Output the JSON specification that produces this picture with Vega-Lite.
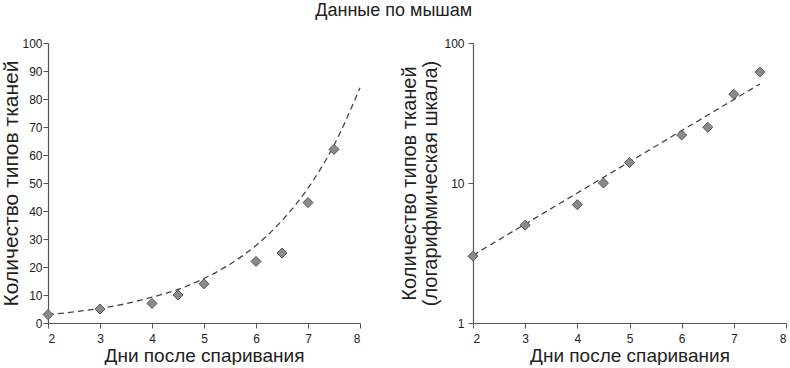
{
  "$schema": "https://vega.github.io/schema/vega-lite/v6.json",
  "padding": {"left": 0, "top": 2, "right": 2, "bottom": 0},
  "title": {"text": "Данные по мышам", "fontSize": 18, "font": "Liberation Sans", "fontWeight": "normal", "color": "#222", "offset": 17, "anchor": "middle"},
  "datasets": {
    "points": [
      {"day": 2, "types": 3},
      {"day": 3, "types": 5},
      {"day": 4, "types": 7},
      {"day": 4.5, "types": 10},
      {"day": 5, "types": 14},
      {"day": 6, "types": 22},
      {"day": 6.5, "types": 25},
      {"day": 7, "types": 43},
      {"day": 7.5, "types": 62}
    ],
    "curve": [
      {"day": 2, "types": 3.0},
      {"day": 2.5, "types": 3.95},
      {"day": 3, "types": 5.25},
      {"day": 3.5, "types": 6.9},
      {"day": 4, "types": 9.2},
      {"day": 4.5, "types": 12.0},
      {"day": 5, "types": 15.9},
      {"day": 5.5, "types": 21.0},
      {"day": 6, "types": 27.7},
      {"day": 6.5, "types": 36.6},
      {"day": 7, "types": 48.2},
      {"day": 7.5, "types": 63.5},
      {"day": 8, "types": 84.0}
    ],
    "fitline": [
      {"day": 2, "types": 3.05},
      {"day": 7.5, "types": 51}
    ]
  },
  "spacing": 36,
  "hconcat": [
    {
      "width": 312,
      "height": 280,
      "encoding": {
        "x": {"field": "day", "type": "quantitative", "scale": {"domain": [2, 8], "nice": false}, "axis": {"values": [2, 3, 4, 5, 6, 7, 8], "title": "Дни после спаривания", "titleFontSize": 19, "labelPadding": 5, "titlePadding": 2}},
        "y": {"field": "types", "type": "quantitative", "scale": {"domain": [0, 100], "nice": false}, "axis": {"values": [0, 10, 20, 30, 40, 50, 60, 70, 80, 90, 100], "tickCount": 11, "labelOverlap": false, "title": "Количество типов тканей", "titleFontSize": 21, "titlePadding": 0, "labelPadding": 1}}
      },
      "layer": [
        {
          "data": {"name": "curve"},
          "mark": {"type": "line", "interpolate": "monotone", "strokeDash": [6, 4], "color": "#444", "strokeWidth": 1.3}
        },
        {
          "data": {"name": "points"},
          "mark": {"type": "point", "shape": "diamond", "filled": true, "size": 100, "fill": "#8a8a8a", "stroke": "#555", "strokeWidth": 1, "opacity": 1}
        }
      ]
    },
    {
      "width": 313,
      "height": 280,
      "encoding": {
        "x": {"field": "day", "type": "quantitative", "scale": {"domain": [2, 8], "nice": false}, "axis": {"values": [2, 3, 4, 5, 6, 7, 8], "title": "Дни после спаривания", "titleFontSize": 19, "labelPadding": 5, "titlePadding": 2}},
        "y": {"field": "types", "type": "quantitative", "scale": {"type": "log", "domain": [1, 100], "nice": false}, "axis": {"values": [1, 10, 100], "format": "d", "labelOverlap": false, "title": ["Количество типов тканей", "(логарифмическая шкала)"], "titleFontSize": 20, "titleLineHeight": 21, "titlePadding": 3, "labelPadding": 4}}
      },
      "layer": [
        {
          "data": {"name": "fitline"},
          "mark": {"type": "line", "strokeDash": [6, 4], "color": "#444", "strokeWidth": 1.3}
        },
        {
          "data": {"name": "points"},
          "mark": {"type": "point", "shape": "diamond", "filled": true, "size": 100, "fill": "#8a8a8a", "stroke": "#555", "strokeWidth": 1, "opacity": 1}
        }
      ]
    }
  ],
  "config": {
    "view": {"stroke": null},
    "axis": {
      "grid": false,
      "domainColor": "#555",
      "tickColor": "#555",
      "domainWidth": 1.2,
      "tickSize": 5,
      "labelFont": "Liberation Sans",
      "titleFont": "Liberation Sans",
      "labelFontSize": 12,
      "titleFontWeight": "normal",
      "labelColor": "#222",
      "titleColor": "#222"
    }
  }
}
